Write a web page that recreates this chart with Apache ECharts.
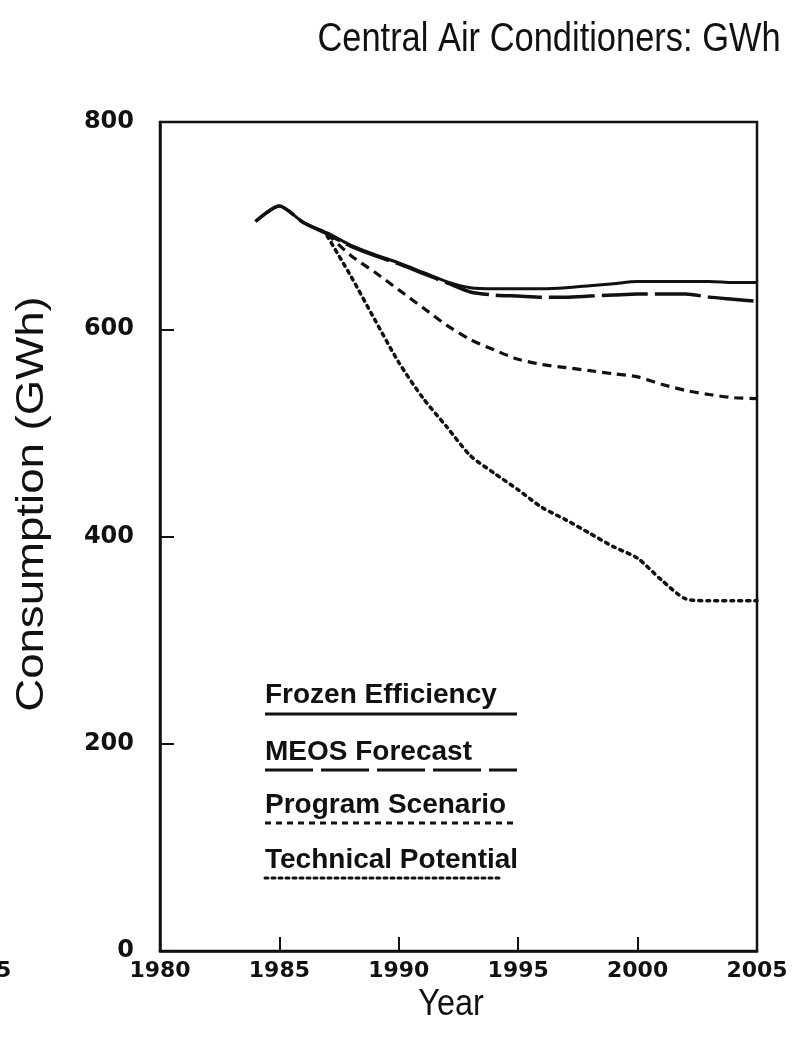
<!DOCTYPE html>
<html>
<head>
<meta charset="utf-8">
<script src="https://cdn.jsdelivr.net/npm/echarts@6/dist/echarts.min.js"></script>
<style>
  html, body { margin: 0; padding: 0; background: #fff; }
  #chart { width: 799px; height: 1047px; }
</style>
</head>
<body>
<div id="chart"></div>
<script>
// Annual consumption (GWh) of central air conditioners, 1984–2005
const years = [1984, 1985, 1986, 1987, 1988, 1989, 1990, 1991, 1992, 1993, 1994,
               1995, 1996, 1997, 1998, 1999, 2000, 2001, 2002, 2003, 2004, 2005];
const frozenEfficiency = [704, 719, 703, 693, 681, 672, 664, 655, 646, 640, 639,
                          639, 639, 640, 642, 644, 646, 646, 646, 646, 645, 645];
const meosForecast = [704, 719, 703, 692, 680, 671, 663, 654, 645, 636, 633,
                      632, 631, 631, 632, 633, 634, 634, 634, 631, 629, 627];
const programScenario = [null, null, null, 692, 671, 655, 638, 621, 604, 590, 580,
                         571, 566, 563, 560, 557, 554, 547, 541, 537, 534, 533];
const technicalPotential = [null, null, null, 690, 651, 609, 568, 534, 506, 478, 461,
                            445, 428, 416, 403, 390, 379, 358, 340, 338, 338, 338];

const seriesNames = ['Frozen Efficiency', 'MEOS Forecast', 'Program Scenario', 'Technical Potential'];
const xTicks = [1980, 1985, 1990, 1995, 2000, 2005];
const yTicks = [0, 200, 400, 600, 800];

function pairs(values) {
  const out = [];
  values.forEach((v, i) => { if (v !== null) out.push([years[i], v]); });
  return out;
}

const INK = '#111';
const lineStyles = [
  { type: 'solid', width: 3 },
  { type: [46, 7], width: 3.5 },
  { type: [9, 6], width: 3.2 },
  { type: [3, 5], width: 3.5, cap: 'round' }
];
const valueSets = [frozenEfficiency, meosForecast, programScenario, technicalPotential];

const chart = echarts.init(document.getElementById('chart'), null, { renderer: 'canvas' });

// legend rows: label with a sample line drawn underneath
const legendLeft = 265;
const legendRows = [
  { baseline: 705, line: 714, end: 517, dash: null },
  { baseline: 762, line: 770, end: 517, dash: [48, 8] },
  { baseline: 815, line: 823, end: 513, dash: [6, 5] },
  { baseline: 870, line: 878, end: 503, dash: [3, 4] }
];
const legendGraphics = [];
legendRows.forEach((row, i) => {
  legendGraphics.push({
    type: 'text', x: legendLeft, y: row.baseline - 10,
    style: {
      text: seriesNames[i], fill: INK, font: 'bold 28px "Liberation Sans", Arial, sans-serif',
      textAlign: 'left', textVerticalAlign: 'middle'
    }
  });
  legendGraphics.push({
    type: 'line',
    shape: { x1: legendLeft, y1: row.line, x2: row.end, y2: row.line },
    style: { stroke: INK, lineWidth: 3, lineDash: row.dash, lineCap: i === 3 ? 'round' : 'butt' }
  });
});

chart.setOption({
  backgroundColor: '#fff',
  animation: false,
  grid: {
    left: 160, right: 42, top: 122, bottom: 96,
    show: true, borderColor: INK, borderWidth: 2.5, containLabel: false
  },
  xAxis: {
    type: 'value', min: xTicks[0], max: xTicks[xTicks.length - 1], interval: 5,
    axisLine: { lineStyle: { color: INK, width: 2.5 } },
    axisTick: { inside: true, length: 14, lineStyle: { color: INK, width: 2 } },
    axisLabel: {
      color: INK, fontSize: 22, fontWeight: 'bold', fontFamily: 'DejaVu Sans', margin: 9,
      formatter: v => String(v)
    },
    splitLine: { show: false }
  },
  yAxis: {
    type: 'value', min: yTicks[0], max: yTicks[yTicks.length - 1], interval: 200,
    axisLine: { show: true, lineStyle: { color: INK, width: 2.5 } },
    axisTick: { show: true, inside: true, length: 14, lineStyle: { color: INK, width: 2 } },
    axisLabel: {
      color: INK, fontSize: 24, fontWeight: 'bold', fontFamily: 'DejaVu Sans', margin: 26,
      formatter: v => String(v)
    },
    splitLine: { show: false }
  },
  series: valueSets.map((vals, i) => ({
    name: seriesNames[i],
    type: 'line',
    data: pairs(vals),
    smooth: 0.25,
    showSymbol: false,
    lineStyle: { color: INK, width: lineStyles[i].width, type: lineStyles[i].type, cap: lineStyles[i].cap || 'butt' },
    z: 4 - i
  })),
  graphic: [
    {
      type: 'text', x: 549, y: 40, scaleX: 0.84,
      style: {
        text: 'Central Air Conditioners: GWh', fill: INK, font: '41px "Liberation Sans", Arial, sans-serif',
        textAlign: 'center', textVerticalAlign: 'middle'
      }
    },
    {
      type: 'text', x: 451, y: 1005, scaleX: 0.9,
      style: {
        text: 'Year', fill: INK, font: '36px "Liberation Sans", Arial, sans-serif',
        textAlign: 'center', textVerticalAlign: 'middle'
      }
    },
    {
      type: 'text', x: 33, y: 504, rotation: Math.PI / 2, scaleX: 1.2,
      style: {
        text: 'Consumption (GWh)', fill: INK, font: '38px "Liberation Sans", Arial, sans-serif',
        textAlign: 'center', textVerticalAlign: 'middle'
      }
    },
    {
      type: 'text', x: -4, y: 960,
      style: { text: '5', fill: INK, font: 'bold 22px "DejaVu Sans", sans-serif' }
    },
    ...legendGraphics
  ]
});
</script>
</body>
</html>
